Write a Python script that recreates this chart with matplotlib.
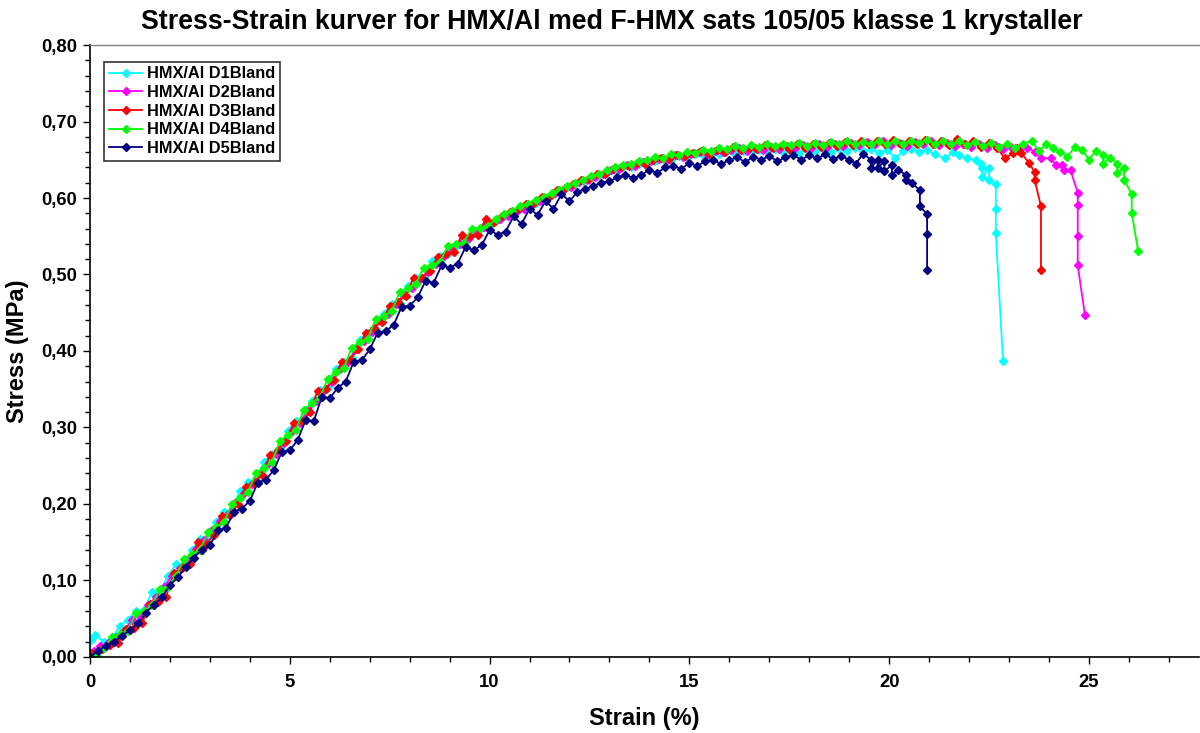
import numpy as np
import matplotlib.pyplot as plt
from matplotlib.ticker import MultipleLocator, FuncFormatter

plt.rcParams['font.family'] = ['Liberation Sans', 'DejaVu Sans']
plt.rcParams['font.weight'] = 'bold'

#%% data (strain in %, stress in MPa)

labels = ["HMX/Al D1Bland", "HMX/Al D2Bland", "HMX/Al D3Bland", "HMX/Al D4Bland", "HMX/Al D5Bland"]
colors = ["#00FFFF", "#FF00FF", "#FF0000", "#00FF00", "#000080"]

strain_d1 = [0.00, 0.02, 0.13, 0.35, 0.55, 0.75, 0.95, 1.15, 1.35, 1.55, 1.75, 1.95, 2.15, 2.35, 2.55, 2.75, 2.95,
             3.15, 3.35, 3.55, 3.75, 3.95, 4.15, 4.35, 4.55, 4.75, 4.95, 5.15, 5.35, 5.55, 5.75, 5.95, 6.15, 6.35,
             6.55, 6.75, 6.95, 7.15, 7.35, 7.55, 7.75, 7.95, 8.15, 8.35, 8.55, 8.75, 8.95, 9.15, 9.35, 9.55, 9.75,
             9.95, 10.15, 10.35, 10.55, 10.75, 10.95, 11.15, 11.35, 11.55, 11.75, 11.95, 12.15, 12.35, 12.55, 12.75,
             12.95, 13.15, 13.35, 13.55, 13.75, 13.95, 14.15, 14.35, 14.55, 14.75, 14.95, 15.15, 15.35, 15.55, 15.75,
             15.95, 16.15, 16.35, 16.55, 16.75, 16.95, 17.15, 17.35, 17.55, 17.75, 17.95, 18.15, 18.35, 18.55, 18.75,
             18.95, 19.15, 19.35, 19.55, 19.75, 19.95, 20.15, 20.35, 20.55, 20.75, 20.95, 21.15, 21.40, 21.60, 21.75,
             21.95, 22.17, 22.30, 22.33, 22.33, 22.50, 22.50, 22.67, 22.67, 22.67, 22.85]
stress_d1 = [0.000, 0.022, 0.029, 0.020, 0.024, 0.041, 0.049, 0.060, 0.061, 0.085, 0.086, 0.106, 0.121, 0.121, 0.140,
             0.154, 0.156, 0.177, 0.190, 0.191, 0.217, 0.229, 0.231, 0.255, 0.266, 0.273, 0.296, 0.308, 0.313, 0.335,
             0.349, 0.352, 0.376, 0.386, 0.391, 0.415, 0.424, 0.429, 0.449, 0.461, 0.463, 0.485, 0.496, 0.495, 0.517,
             0.524, 0.527, 0.537, 0.546, 0.551, 0.560, 0.566, 0.570, 0.577, 0.580, 0.586, 0.590, 0.594, 0.600, 0.604,
             0.609, 0.615, 0.618, 0.622, 0.627, 0.630, 0.633, 0.637, 0.640, 0.641, 0.645, 0.646, 0.648, 0.651, 0.650,
             0.655, 0.654, 0.657, 0.656, 0.660, 0.658, 0.661, 0.658, 0.662, 0.660, 0.663, 0.661, 0.664, 0.660, 0.663,
             0.659, 0.664, 0.662, 0.665, 0.660, 0.664, 0.662, 0.666, 0.661, 0.664, 0.659, 0.663, 0.652, 0.661, 0.664,
             0.660, 0.663, 0.657, 0.652, 0.660, 0.656, 0.652, 0.650, 0.644, 0.639, 0.628, 0.639, 0.623, 0.618, 0.586,
             0.554, 0.387]

strain_d2 = [0.00, 0.10, 0.25, 0.45, 0.65, 0.85, 1.05, 1.25, 1.45, 1.65, 1.85, 2.05, 2.25, 2.45, 2.65, 2.85, 3.05,
             3.25, 3.45, 3.65, 3.85, 4.05, 4.25, 4.45, 4.65, 4.85, 5.05, 5.25, 5.45, 5.65, 5.85, 6.05, 6.25, 6.45,
             6.65, 6.85, 7.05, 7.25, 7.45, 7.65, 7.85, 8.05, 8.25, 8.45, 8.65, 8.85, 9.05, 9.25, 9.45, 9.65, 9.85,
             10.05, 10.25, 10.45, 10.65, 10.85, 11.05, 11.25, 11.45, 11.65, 11.85, 12.05, 12.25, 12.45, 12.65, 12.85,
             13.05, 13.25, 13.45, 13.65, 13.85, 14.05, 14.25, 14.45, 14.65, 14.85, 15.05, 15.25, 15.45, 15.65, 15.85,
             16.05, 16.25, 16.45, 16.65, 16.85, 17.05, 17.25, 17.45, 17.65, 17.85, 18.05, 18.25, 18.45, 18.65, 18.85,
             19.05, 19.25, 19.45, 19.65, 19.85, 20.05, 20.25, 20.45, 20.65, 20.85, 21.05, 21.25, 21.45, 21.65, 21.85,
             22.05, 22.25, 22.45, 22.65, 22.85, 23.05, 23.25, 23.45, 23.65, 23.80, 24.04, 24.18, 24.33, 24.38, 24.54,
             24.72, 24.72, 24.72, 24.72, 24.90]
stress_d2 = [0.000, 0.008, 0.014, 0.018, 0.026, 0.034, 0.048, 0.054, 0.068, 0.078, 0.092, 0.106, 0.116, 0.128, 0.141,
             0.153, 0.166, 0.178, 0.187, 0.203, 0.214, 0.226, 0.241, 0.252, 0.265, 0.280, 0.296, 0.306, 0.322, 0.335,
             0.349, 0.360, 0.376, 0.386, 0.402, 0.413, 0.425, 0.440, 0.449, 0.462, 0.473, 0.483, 0.494, 0.503, 0.514,
             0.524, 0.532, 0.540, 0.547, 0.556, 0.562, 0.567, 0.573, 0.577, 0.582, 0.586, 0.592, 0.596, 0.601, 0.606,
             0.611, 0.615, 0.621, 0.623, 0.628, 0.631, 0.637, 0.638, 0.643, 0.642, 0.647, 0.649, 0.651, 0.650, 0.656,
             0.654, 0.657, 0.660, 0.658, 0.662, 0.660, 0.663, 0.666, 0.661, 0.665, 0.663, 0.667, 0.664, 0.668, 0.665,
             0.669, 0.666, 0.670, 0.667, 0.671, 0.668, 0.672, 0.669, 0.673, 0.670, 0.674, 0.669, 0.672, 0.668, 0.673,
             0.670, 0.674, 0.669, 0.672, 0.668, 0.671, 0.667, 0.670, 0.666, 0.669, 0.664, 0.667, 0.662, 0.666, 0.660,
             0.652, 0.652, 0.643, 0.643, 0.636, 0.636, 0.607, 0.591, 0.550, 0.512, 0.447]

strain_d3 = [0.00, 0.02, 0.10, 0.30, 0.50, 0.70, 0.90, 1.10, 1.30, 1.50, 1.70, 1.90, 2.10, 2.30, 2.50, 2.70, 2.90,
             3.10, 3.30, 3.50, 3.70, 3.90, 4.10, 4.30, 4.50, 4.70, 4.90, 5.10, 5.30, 5.50, 5.70, 5.90, 6.10, 6.30,
             6.50, 6.70, 6.90, 7.10, 7.30, 7.50, 7.70, 7.90, 8.10, 8.30, 8.50, 8.70, 8.90, 9.10, 9.30, 9.50, 9.70,
             9.90, 10.10, 10.30, 10.50, 10.70, 10.90, 11.10, 11.30, 11.50, 11.70, 11.90, 12.10, 12.30, 12.50, 12.70,
             12.90, 13.10, 13.30, 13.50, 13.70, 13.90, 14.10, 14.30, 14.50, 14.70, 14.90, 15.10, 15.30, 15.50, 15.70,
             15.90, 16.10, 16.30, 16.50, 16.70, 16.90, 17.10, 17.30, 17.50, 17.70, 17.90, 18.10, 18.30, 18.50, 18.70,
             18.90, 19.10, 19.30, 19.50, 19.70, 19.90, 20.10, 20.30, 20.50, 20.70, 20.90, 21.10, 21.30, 21.50, 21.70,
             21.90, 22.10, 22.30, 22.50, 22.70, 22.90, 23.10, 23.20, 23.30, 23.50, 23.64, 23.64, 23.80, 23.80]
stress_d3 = [0.000, 0.005, 0.002, 0.010, 0.016, 0.018, 0.036, 0.038, 0.044, 0.069, 0.072, 0.078, 0.110, 0.116, 0.122,
             0.150, 0.147, 0.160, 0.184, 0.186, 0.200, 0.222, 0.228, 0.238, 0.264, 0.270, 0.282, 0.306, 0.308, 0.320,
             0.348, 0.350, 0.362, 0.386, 0.388, 0.402, 0.424, 0.430, 0.438, 0.459, 0.464, 0.472, 0.496, 0.495, 0.504,
             0.523, 0.527, 0.529, 0.551, 0.550, 0.552, 0.572, 0.568, 0.577, 0.582, 0.586, 0.592, 0.594, 0.601, 0.603,
             0.610, 0.613, 0.618, 0.623, 0.625, 0.631, 0.632, 0.638, 0.640, 0.642, 0.646, 0.645, 0.650, 0.652, 0.651,
             0.656, 0.655, 0.659, 0.661, 0.658, 0.663, 0.660, 0.667, 0.663, 0.666, 0.664, 0.669, 0.665, 0.668, 0.664,
             0.670, 0.666, 0.671, 0.667, 0.672, 0.668, 0.673, 0.669, 0.674, 0.670, 0.675, 0.671, 0.676, 0.670, 0.675,
             0.671, 0.676, 0.670, 0.675, 0.669, 0.677, 0.671, 0.674, 0.667, 0.672, 0.665, 0.652, 0.659, 0.666, 0.659,
             0.646, 0.634, 0.624, 0.589, 0.506]

strain_d4 = [0.00, 0.15, 0.35, 0.55, 0.75, 0.95, 1.15, 1.35, 1.55, 1.75, 1.95, 2.15, 2.35, 2.55, 2.75, 2.95, 3.15,
             3.35, 3.55, 3.75, 3.95, 4.15, 4.35, 4.55, 4.75, 4.95, 5.15, 5.35, 5.55, 5.75, 5.95, 6.15, 6.35, 6.55,
             6.75, 6.95, 7.15, 7.35, 7.55, 7.75, 7.95, 8.15, 8.35, 8.55, 8.75, 8.95, 9.15, 9.35, 9.55, 9.75, 9.95,
             10.15, 10.35, 10.55, 10.75, 10.95, 11.15, 11.35, 11.55, 11.75, 11.95, 12.15, 12.35, 12.55, 12.75, 12.95,
             13.15, 13.35, 13.55, 13.75, 13.95, 14.15, 14.35, 14.55, 14.75, 14.95, 15.15, 15.35, 15.55, 15.75, 15.95,
             16.15, 16.35, 16.55, 16.75, 16.95, 17.15, 17.35, 17.55, 17.75, 17.95, 18.15, 18.35, 18.55, 18.75, 18.95,
             19.15, 19.35, 19.55, 19.75, 19.95, 20.15, 20.35, 20.55, 20.75, 20.95, 21.15, 21.35, 21.55, 21.75, 21.95,
             22.15, 22.35, 22.55, 22.75, 22.95, 23.15, 23.35, 23.57, 23.75, 23.93, 24.10, 24.28, 24.46, 24.65, 24.83,
             25.00, 25.17, 25.35, 25.35, 25.52, 25.71, 25.71, 25.88, 25.88, 26.07, 26.07, 26.23]
stress_d4 = [0.000, 0.003, 0.012, 0.026, 0.030, 0.034, 0.058, 0.060, 0.068, 0.089, 0.092, 0.106, 0.128, 0.134, 0.140,
             0.163, 0.170, 0.176, 0.200, 0.208, 0.216, 0.240, 0.247, 0.255, 0.282, 0.290, 0.297, 0.323, 0.332, 0.339,
             0.364, 0.372, 0.378, 0.404, 0.412, 0.416, 0.442, 0.446, 0.452, 0.477, 0.483, 0.487, 0.509, 0.512, 0.516,
             0.537, 0.540, 0.541, 0.560, 0.561, 0.563, 0.572, 0.579, 0.583, 0.589, 0.592, 0.598, 0.601, 0.606, 0.611,
             0.616, 0.620, 0.624, 0.629, 0.632, 0.636, 0.640, 0.643, 0.645, 0.648, 0.650, 0.653, 0.652, 0.657, 0.656,
             0.660, 0.659, 0.663, 0.662, 0.665, 0.664, 0.668, 0.665, 0.669, 0.667, 0.670, 0.668, 0.671, 0.669, 0.672,
             0.668, 0.672, 0.669, 0.673, 0.670, 0.674, 0.670, 0.673, 0.671, 0.675, 0.670, 0.674, 0.671, 0.675, 0.672,
             0.676, 0.671, 0.675, 0.670, 0.674, 0.669, 0.673, 0.668, 0.672, 0.667, 0.671, 0.666, 0.670, 0.675, 0.661,
             0.671, 0.665, 0.660, 0.654, 0.667, 0.663, 0.650, 0.661, 0.656, 0.645, 0.652, 0.645, 0.633, 0.639, 0.624,
             0.605, 0.581, 0.531]

strain_d5 = [0.00, 0.20, 0.40, 0.60, 0.80, 1.00, 1.20, 1.40, 1.60, 1.80, 2.00, 2.20, 2.40, 2.60, 2.80, 3.00, 3.20,
             3.40, 3.60, 3.80, 4.00, 4.20, 4.40, 4.60, 4.80, 5.00, 5.20, 5.40, 5.60, 5.80, 6.00, 6.20, 6.40, 6.60,
             6.80, 7.00, 7.20, 7.40, 7.60, 7.80, 8.00, 8.20, 8.40, 8.60, 8.80, 9.00, 9.20, 9.40, 9.60, 9.80, 10.00,
             10.20, 10.40, 10.60, 10.80, 11.00, 11.20, 11.40, 11.60, 11.80, 12.00, 12.20, 12.40, 12.60, 12.80, 13.00,
             13.20, 13.40, 13.60, 13.80, 14.00, 14.20, 14.40, 14.60, 14.80, 15.00, 15.20, 15.40, 15.60, 15.80, 16.00,
             16.20, 16.40, 16.60, 16.80, 17.00, 17.20, 17.40, 17.60, 17.80, 18.00, 18.20, 18.40, 18.60, 18.80, 19.00,
             19.17, 19.35, 19.54, 19.54, 19.71, 19.71, 19.88, 19.88, 20.07, 20.07, 20.23, 20.42, 20.42, 20.58, 20.77,
             20.77, 20.95, 20.95, 20.95]
stress_d5 = [0.000, 0.008, 0.015, 0.020, 0.028, 0.035, 0.044, 0.058, 0.068, 0.078, 0.094, 0.104, 0.118, 0.130, 0.140,
             0.146, 0.166, 0.168, 0.190, 0.194, 0.204, 0.228, 0.232, 0.244, 0.268, 0.270, 0.284, 0.310, 0.308, 0.340,
             0.338, 0.352, 0.360, 0.386, 0.388, 0.402, 0.424, 0.426, 0.434, 0.458, 0.459, 0.470, 0.492, 0.489, 0.512,
             0.509, 0.514, 0.536, 0.532, 0.538, 0.558, 0.552, 0.556, 0.576, 0.566, 0.586, 0.578, 0.596, 0.586, 0.605,
             0.596, 0.608, 0.612, 0.616, 0.620, 0.622, 0.627, 0.630, 0.626, 0.630, 0.637, 0.633, 0.640, 0.642, 0.638,
             0.646, 0.642, 0.648, 0.650, 0.644, 0.650, 0.653, 0.647, 0.654, 0.650, 0.655, 0.648, 0.653, 0.656, 0.650,
             0.656, 0.652, 0.657, 0.651, 0.655, 0.650, 0.645, 0.658, 0.650, 0.639, 0.650, 0.639, 0.648, 0.635, 0.643,
             0.630, 0.637, 0.630, 0.624, 0.619, 0.610, 0.589, 0.579, 0.553, 0.506]

strains = [strain_d1, strain_d2, strain_d3, strain_d4, strain_d5]
stresses = [stress_d1, stress_d2, stress_d3, stress_d4, stress_d5]

#%% plot

fig = plt.figure(figsize=(12, 7.33), dpi=100)
ax = fig.add_subplot(111)
fig.subplots_adjust(left=0.075, right=0.999, bottom=0.1037, top=0.9386)

for i in range(len(labels)):
    ax.plot(strains[i], stresses[i], color=colors[i], marker='D', markersize=4.3,
            linewidth=1.3, label=labels[i])

ax.set_xlim(0, 27.75)
ax.set_ylim(0, 0.8)
ax.xaxis.set_major_locator(MultipleLocator(5))
ax.xaxis.set_minor_locator(MultipleLocator(1))
ax.yaxis.set_major_locator(MultipleLocator(0.1))
ax.yaxis.set_minor_locator(MultipleLocator(0.02))
ax.yaxis.set_major_formatter(FuncFormatter(lambda v, p: ("%.2f" % v).replace('.', ',')))
ax.tick_params(which='major', direction='out', length=5, width=1, labelsize=13.3, pad=4)
ax.tick_params(which='minor', direction='out', length=3.5, width=1)
ax.tick_params(axis='x', pad=7)

for side in ['left', 'bottom']:
    ax.spines[side].set_linewidth(1.2)
ax.spines['top'].set_color('#808080')
ax.spines['top'].set_linewidth(1)
ax.spines['right'].set_visible(False)

ax.set_xlabel("Strain (%)", fontsize=17, fontweight='bold', labelpad=12)
fig.text(0.015, 1 - 351 / 733, "Stress (MPa)", fontsize=17, fontweight='bold',
         rotation=90, ha='center', va='center')
fig.text(0.51, 1 - 22 / 733, "Stress-Strain kurver for HMX/Al med F-HMX sats 105/05 klasse 1 krystaller",
         fontsize=19.3, fontweight='bold', ha='center', va='center')

leg = ax.legend(loc='upper left', bbox_to_anchor=(0.013, 0.973), fontsize=11.8, frameon=True,
                fancybox=False, shadow=False, borderpad=0.3, labelspacing=0.22,
                handlelength=2.0, handletextpad=0.3, borderaxespad=0)
leg.get_frame().set_edgecolor('black')
leg.get_frame().set_linewidth(1.2)
for t in leg.get_texts():
    t.set_fontweight('bold')

fig.savefig("out.png", dpi=100)
